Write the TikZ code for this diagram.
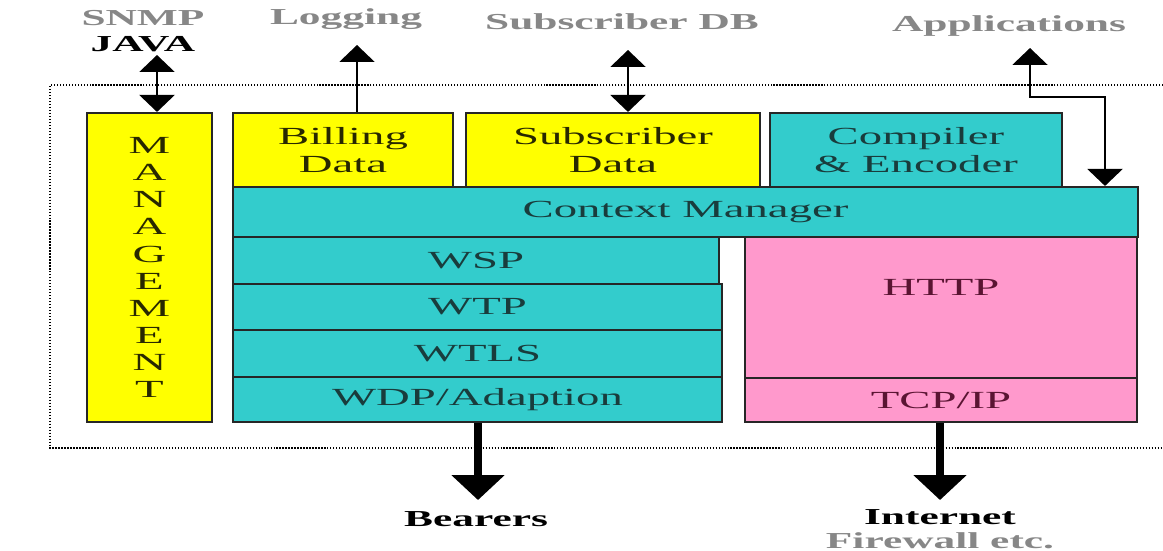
\documentclass[tikz,border=0pt]{standalone}
\usepackage{fontspec}
\setmainfont{Liberation Serif}[FakeStretch=1.9]
\usetikzlibrary{arrows.meta,positioning}

\definecolor{boxyellow}{RGB}{255,255,0}
\definecolor{boxcyan}{RGB}{51,204,204}
\definecolor{boxpink}{RGB}{255,153,204}
\definecolor{yellowtext}{RGB}{40,40,0}
\definecolor{cyantext}{RGB}{25,60,60}
\definecolor{pinktext}{RGB}{90,20,50}
\definecolor{labelgray}{RGB}{135,135,135}

\begin{document}
\begin{tikzpicture}[x=0.02cm,y=-0.02cm,
		layer/.style={draw=black!85, line width=1.2pt, inner sep=0pt, align=center, font=\fontsize{14}{16}\selectfont},
		yellow layer/.style={layer, fill=boxyellow, text=yellowtext},
		cyan layer/.style={layer, fill=boxcyan, text=cyantext},
		pink layer/.style={layer, fill=boxpink, text=pinktext},
		grey label/.style={inner sep=1pt, text=labelgray, font=\fontsize{13}{15}\selectfont\bfseries},
		dark label/.style={inner sep=1pt, font=\fontsize{13}{15}\selectfont\bfseries},
		thin arrow/.style={line width=1.4pt, -{Triangle[width=0.7cm,length=0.34cm]}},
		thin arrows/.style={line width=1.4pt, {Triangle[width=0.7cm,length=0.34cm]}-{Triangle[width=0.7cm,length=0.34cm]}},
		fat arrow/.style={line width=5pt, -{Triangle[width=1.04cm,length=0.5cm]}},
		frame/.style={densely dotted, line width=0.7pt}
	]
	\useasboundingbox (0,0) rectangle (1163,551);

	% dotted gateway frame, open on the right
	\draw[frame] (1163,85) -- (50,85) -- (50,448) -- (1163,448);

	% layers
	\node[yellow layer, minimum width=2.5cm, minimum height=6.18cm, font=\fontsize{14}{15.4}\selectfont] (mgmt) at (149.5,267.5) {M\\A\\N\\A\\G\\E\\M\\E\\N\\T};
	\node[yellow layer, minimum width=4.4cm,  minimum height=1.48cm] (billing) at (343,150) {Billing\\Data};
	\node[yellow layer, minimum width=5.88cm, minimum height=1.48cm] (subs) at (613,150) {Subscriber\\Data};
	\node[cyan layer,   minimum width=5.84cm, minimum height=1.48cm] (compiler) at (916,150) {Compiler\\\& Encoder};
	\node[cyan layer,   minimum width=18.1cm, minimum height=1.0cm] (ctx) at (685.5,212) {Context Manager};
	\node[cyan layer,   minimum width=9.72cm, minimum height=0.94cm] (wsp) at (476,260.5) {WSP};
	\node[cyan layer,   minimum width=9.78cm, minimum height=0.92cm] (wtp) at (477.5,307) {WTP};
	\node[cyan layer,   minimum width=9.78cm, minimum height=0.94cm] (wtls) at (477.5,353.5) {WTLS};
	\node[cyan layer,   minimum width=9.78cm, minimum height=0.9cm] (wdp) at (477.5,399.5) {WDP/Adaption};
	\node[pink layer,   minimum width=7.84cm, minimum height=2.82cm, text depth=0.8cm] (http) at (941,307.5) {HTTP};
	\node[pink layer,   minimum width=7.84cm, minimum height=0.88cm] (tcp) at (941,400) {TCP/IP};

	% outside labels
	\node[grey label] (snmp) at (143,18) {SNMP};
	\node[dark label, below=4pt of snmp] (java) {JAVA};
	\node[grey label] (logging) at (346,19) {Logging};
	\node[grey label] (subsdb) at (622,22) {Subscriber DB};
	\node[grey label] (apps) at (1009,26) {Applications};
	\node[dark label] (bearers) at (476,519) {Bearers};
	\node[dark label] (internet) at (940,517) {Internet};
	\node[grey label, below=2pt of internet] (firewall) {Firewall etc.};

	% arrow ends
	\coordinate (java tip) at (157,55);
	\coordinate (log tip) at (357,45);
	\coordinate (subsdb tip) at (628,50);
	\coordinate (apps tip) at (1030,48);
	\coordinate (apps bend) at (1105,97);
	\coordinate (bearers tip) at (478,500);
	\coordinate (internet tip) at (940,500);

	\draw[thin arrows] (java tip) -- (java tip |- mgmt.north);
	\draw[thin arrow] (log tip |- billing.north) -- (log tip);
	\draw[thin arrows] (subsdb tip) -- (subsdb tip |- subs.north);
	\draw[thin arrows] (apps tip) |- (apps bend) -- (apps bend |- ctx.north);
	\draw[fat arrow] (bearers tip |- wdp.south) -- (bearers tip);
	\draw[fat arrow] (internet tip |- tcp.south) -- (internet tip);
\end{tikzpicture}
\end{document}
